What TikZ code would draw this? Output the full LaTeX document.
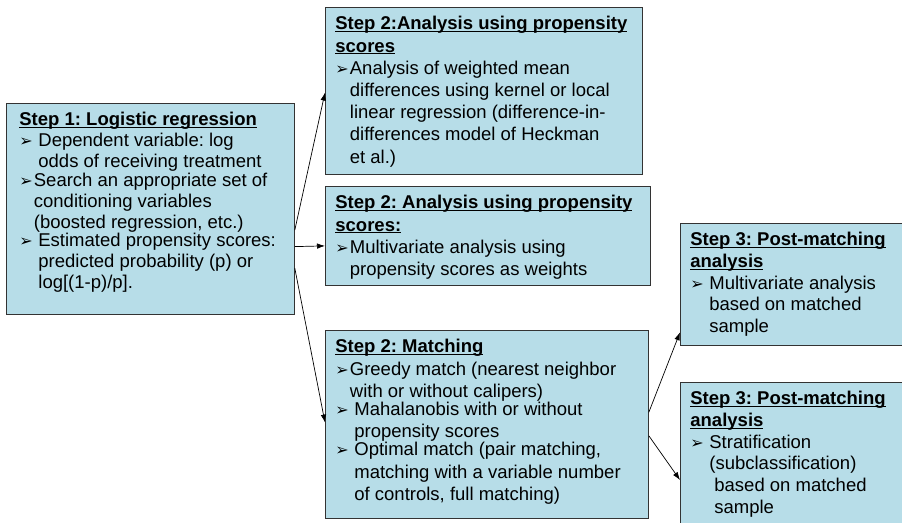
\documentclass[tikz,border=0pt]{standalone}
\usepackage{fontspec}
\setmainfont{Liberation Sans}
\newfontfamily\symfont{DejaVu Sans}
\usetikzlibrary{arrows.meta,calc}
\definecolor{boxfill}{RGB}{183,221,232}
\newcommand\bul{{\symfont\fontsize{16}{16}\selectfont\char"27A2}}
\newcommand\head[1]{\textbf{$\underline{\hbox{\raisebox{0pt}[\height][0pt]{#1}}}$}}
\newcommand\bitem[2]{\par\noindent\makebox[#1][l]{\bul}\parbox[t]{\dimexpr\linewidth-#1\relax}{#2}}
\newcommand\boxtext[4]{\parbox[c][#2][t]{#1}{\fontsize{18.5}{#3}\selectfont\frenchspacing\raggedright\vspace*{9pt}#4}}
\def\bsp{19pt}
\def\bns{14.5pt}

\begin{document}
\begin{tikzpicture}[x=1pt,y=-1pt]
\tikzset{stepbox/.style={draw=black!80,fill=boxfill,line width=0.8pt,inner xsep=10pt,inner ysep=0pt,anchor=north west},
  link/.style={-{Latex[length=8pt,width=5.5pt]},line width=0.7pt}}
\useasboundingbox (0,0) rectangle (902,522);

\node[stepbox,inner xsep=13pt](b1)at(6,103){\boxtext{262pt}{211pt}{21pt}{%
  \head{Step 1: Logistic regression}
  \bitem{\bsp}{Dependent variable: log\\odds of receiving treatment}
  \bitem{\bns}{Search an appropriate set of\\conditioning variables\\(boosted regression, etc.)}
  \bitem{\bsp}{Estimated propensity scores:\\predicted probability (p) or\\log[(1-p)/p].}}};

\node[stepbox](b2)at(325,7){\boxtext{297pt}{167pt}{22.2pt}{%
  \head{Step 2:Analysis using propensity}\\\head{scores}
  \bitem{\bns}{Analysis of weighted mean\\differences using kernel or local\\linear regression (difference-in-\\differences model of Heckman\\et al.)}}};

\node[stepbox](b3)at(325,186){\boxtext{305pt}{99pt}{22.2pt}{%
  \head{Step 2: Analysis using propensity}\\\head{scores:}
  \bitem{\bns}{Multivariate analysis using\\propensity scores as weights}}};

\node[stepbox](b4)at(325,330){\boxtext{303pt}{188pt}{22.2pt}{%
  \head{Step 2: Matching}
  \bitem{\bns}{Greedy match (nearest neighbor\\with or without calipers)}
  \bitem{\bsp}{Mahalanobis with or without\\propensity scores}
  \bitem{\bsp}{Optimal match (pair matching,\\matching with a variable number\\of controls, full matching)}}};

\node[stepbox](b5)at(680,223){\boxtext{220pt}{122pt}{21.7pt}{%
  \head{Step 3: Post-matching}\\\head{analysis}
  \bitem{\bsp}{Multivariate analysis\\based on matched\\sample}}};

\node[stepbox](b6)at(680,382){\boxtext{220pt}{150pt}{21.7pt}{%
  \head{Step 3: Post-matching}\\\head{analysis}
  \bitem{\bsp}{Stratification\\(subclassification)\\\hspace*{5pt}based on matched\\\hspace*{5pt}sample}}};

\foreach \a/\f/\b/\g in {b1/.60/b2/.51,b1/.678/b3/.6,b1/.78/b4/.49,b4/.436/b5/.89,b4/.56/b6/.65}
  \draw[link]($(\a.north east)!\f!(\a.south east)$)--($(\b.north west)!\g!(\b.south west)$);
\end{tikzpicture}
\end{document}
